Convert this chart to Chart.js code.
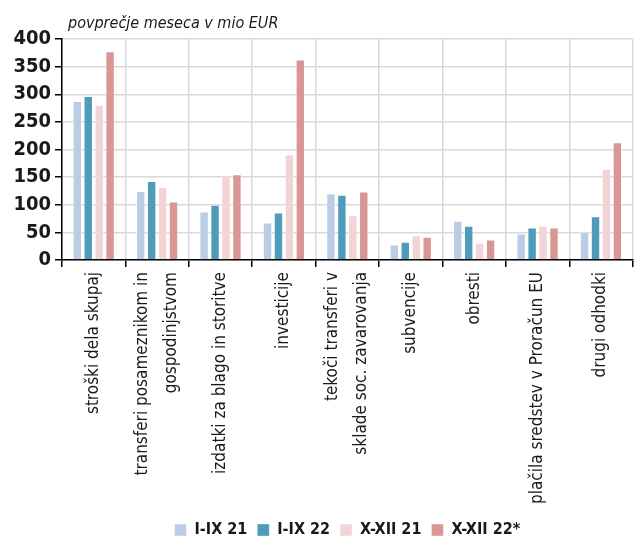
<!DOCTYPE html>
<html>
<head>
<meta charset="utf-8">
<script src="https://cdn.jsdelivr.net/npm/chart.js@4/dist/chart.umd.min.js"></script>
<style>
html,body{margin:0;padding:0;background:#fff;}
#wrap{width:635px;height:540px;position:relative;}
</style>
</head>
<body>
<div id="wrap"><canvas id="c" width="635" height="540"></canvas></div>
<script>
const categories = [
  "stroški dela skupaj",
  ["transferi posameznikom in", "gospodinjstvom"],
  "izdatki za blago in storitve",
  "investicije",
  ["tekoči transferi v", "sklade soc. zavarovanja"],
  "subvencije",
  "obresti",
  "plačila sredstev v Proračun EU",
  "drugi odhodki"
];
const seriesNames = ["I-IX 21", "I-IX 22", "X-XII 21", "X-XII 22*"];
const sI_IX21  = [288, 125, 88, 68, 121, 28, 71, 48, 51];
const sI_IX22  = [297, 143, 100, 86, 118, 33, 62, 59, 79];
const sX_XII21 = [281, 132, 154, 191, 81, 45, 31, 62, 165];
const sX_XII22 = [378, 106, 155, 363, 124, 42, 37, 59, 213];
const yTicks = [0, 50, 100, 150, 200, 250, 300, 350, 400];
const titleText = "povprečje meseca v mio EUR";

const colors = ["#b9cde5", "#4f9bbb", "#f2d4d6", "#d99694"];
const borders = ["rgba(255,255,255,0.5)", "rgba(255,255,255,0.35)", "rgba(255,255,255,0.5)", "rgba(255,255,255,0.45)"];
const allSeries = [sI_IX21, sI_IX22, sX_XII21, sX_XII22];

const FONT = "'DejaVu Sans Condensed', 'DejaVu Sans', sans-serif";

const titlePlugin = {
  id: 'topTitle',
  afterDraw(chart) {
    const ctx = chart.ctx;
    ctx.save();
    ctx.font = "oblique 16px " + FONT;
    ctx.fillStyle = "#1a1a1a";
    ctx.textBaseline = "alphabetic";
    ctx.textAlign = "left";
    ctx.fillText(titleText, chart.chartArea.left + 6, 28);
    ctx.restore();
  }
};

// center multi-line rotated labels on their category
const centerLabels = {
  id: 'centerLabels',
  beforeDraw(chart) {
    const sc = chart.scales.x;
    const items = sc.getLabelItems();
    items.forEach(it => {
      if (it._centered) return;
      it._centered = true;
      if (Array.isArray(it.label) && it.label.length > 1) {
        const f = it.font || (it.options && it.options.font) || {};
        const lh = f.lineHeight || 28.9;
        const tr = it.options.translation;
        it.options.translation = [tr[0] - lh * (it.label.length - 1) / 2, tr[1]];
      }
    });
  }
};

new Chart(document.getElementById('c'), {
  type: 'bar',
  data: {
    labels: categories,
    datasets: allSeries.map((d, i) => ({
      label: seriesNames[i],
      data: d,
      backgroundColor: colors[i],
      borderColor: borders[i],
      borderWidth: 1,
      categoryPercentage: 0.69,
      barPercentage: 0.86
    }))
  },
  options: {
    responsive: false,
    animation: false,
    devicePixelRatio: 1,
    layout: { padding: { top: 39, right: 2, left: 0, bottom: 0 } },
    plugins: {
      legend: {
        position: 'bottom',
        fullSize: false,
        maxHeight: 28,
        labels: {
          boxWidth: 12,
          boxHeight: 12,
          padding: 10,
          color: '#1a1a1a',
          font: { family: FONT, size: 16, weight: 'bold' }
        }
      },
      tooltip: { enabled: false },
      title: { display: false }
    },
    scales: {
      x: {
        afterFit(scale) { scale.height = 252; },
        grid: { color: '#d9d9d9', lineWidth: 1.5, tickColor: '#000', tickLength: 7, offset: true },
        border: { color: '#000', width: 1.5 },
        ticks: {
          minRotation: 90, maxRotation: 90, autoSkip: false,
          color: '#1a1a1a', padding: 5,
          font: { family: FONT, size: 17, lineHeight: 1.7 }
        }
      },
      y: {
        min: 0, max: 400,
        afterFit(scale) { scale.width = 62; },
        afterBuildTicks(scale) { scale.ticks = yTicks.map(v => ({ value: v })); },
        grid: { color: '#d9d9d9', lineWidth: 1.5, tickColor: '#000', tickLength: 7 },
        border: { color: '#000', width: 1.5 },
        ticks: {
          autoSkip: false,
          stepSize: 50,
          color: '#1a1a1a', padding: 4,
          font: { family: FONT, size: 20, weight: 'bold' }
        }
      }
    }
  },
  plugins: [titlePlugin, centerLabels]
});
</script>
</body>
</html>
